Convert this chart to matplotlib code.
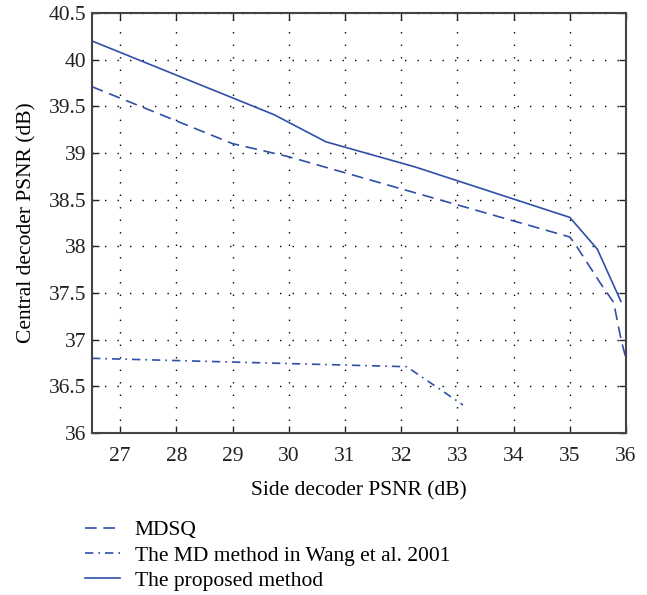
import matplotlib
matplotlib.use("Agg")
import matplotlib.pyplot as plt
import numpy as np

# side / central decoder PSNR pairs (dB)
mdsq_side = [26.5, 29.0, 30.0, 35.0, 35.1, 35.55, 35.78, 35.92, 36.0]
mdsq_central = [39.71, 39.10, 38.96, 38.10, 38.02, 37.60, 37.40, 36.98, 36.80]

wang_side = [26.5, 32.1, 33.1]
wang_central = [36.80, 36.71, 36.30]

prop_side = [26.5, 29.74, 30.66, 32.25, 35.0, 35.49, 35.91]
prop_central = [40.20, 39.41, 39.12, 38.85, 38.31, 37.97, 37.41]

labels = ['MDSQ', 'The MD method in Wang et al. 2001', 'The proposed method']
xticks = np.arange(27, 37, 1)
yticks = np.arange(36, 40.51, 0.5)
ytick_labels = ['36', '36.5', '37', '37.5', '38', '38.5', '39', '39.5', '40', '40.5']

plt.rcParams['font.family'] = ['Liberation Serif', 'DejaVu Serif']
blue = '#2f4fa8'

fig = plt.figure(figsize=(6.47, 5.95), dpi=100)
ax = fig.add_axes([0.1422, 0.2723, 0.8253, 0.7059])

l1, = ax.plot(mdsq_side, mdsq_central, color=blue, lw=1.2, dashes=(7, 4))
l2, = ax.plot(wang_side, wang_central, color=blue, lw=1.2, dashes=(5, 3, 1, 3))
l3, = ax.plot(prop_side, prop_central, color=blue, lw=1.2)

ax.set_xlim(26.5, 36)
ax.set_ylim(36, 40.5)
ax.set_xticks(xticks)
ax.set_yticks(yticks)
ax.set_yticklabels(ytick_labels)
ax.grid(True, color='black', linestyle=(0, (1, 8)), linewidth=1.0)
ax.tick_params(direction='in', top=True, right=True, length=5, width=1.0,
               labelsize=15.5, colors='#222222')
ax.tick_params(axis='x', pad=10)
ax.tick_params(axis='y', pad=4)
for s in ax.spines.values():
    s.set_color('#444444')
    s.set_linewidth(1.5)

ax.set_xlabel('Side decoder PSNR (dB)', fontsize=15.5, labelpad=11)
ax.set_ylabel('Central decoder PSNR (dB)', fontsize=15.5, labelpad=9)

fig.legend([l1, l2, l3], labels, loc='upper left', bbox_to_anchor=(0.132, 0.126),
           frameon=False, fontsize=15.5, handlelength=1.6, labelspacing=0.25,
           handletextpad=0.7, borderpad=0, borderaxespad=0)

fig.savefig('out.png', dpi=100)
